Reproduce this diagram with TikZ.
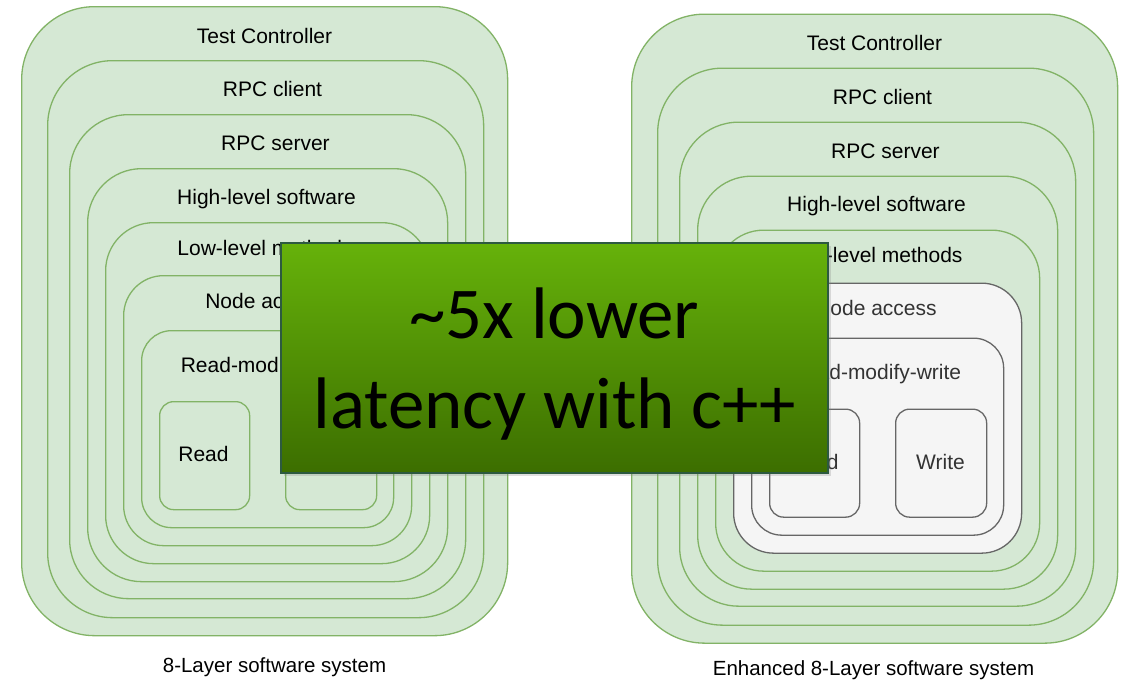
\documentclass[tikz,border=0pt]{standalone}
\usepackage{fontspec}
\setmainfont{Liberation Sans}
\newfontfamily\calloutfont{Carlito}
\usetikzlibrary{shadows}

\definecolor{layerfill}{HTML}{D5E8D4}
\definecolor{layerline}{HTML}{82B366}
\definecolor{greyfill}{HTML}{F5F5F5}
\definecolor{greyline}{HTML}{666666}
\definecolor{greytext}{HTML}{333333}
\definecolor{callouttop}{HTML}{66B20A}
\definecolor{calloutbottom}{HTML}{3C6E00}
\definecolor{calloutline}{HTML}{2D5A40}

\tikzset{
  layer/.style={draw=layerline, fill=layerfill, line width=1.3pt, inner sep=0pt, anchor=north west},
  greylayer/.style={draw=greyline, fill=greyfill, line width=1.3pt, inner sep=0pt, anchor=north west},
  lbl/.style={anchor=base, inner sep=0pt, font=\fontsize{21}{25}\selectfont},
  caption/.style={anchor=base, inner sep=0pt, font=\fontsize{20.5}{25}\selectfont},
  callout/.style={draw=calloutline, line width=2pt, top color=callouttop, bottom color=calloutbottom,
    inner sep=0pt, drop shadow={shadow xshift=3pt, shadow yshift=-3pt, opacity=0.25}},
  callouttext/.style={anchor=base, inner sep=0pt, font=\calloutfont\fontsize{73}{88}\selectfont},
}

% one nested stack of software layers; #1 name prefix, #2/#3 offset,
% #4 style of the three innermost levels, #5 their text colour
\newcommand{\softwarestack}[5]{%
  \begin{scope}[shift={(#2,#3)}]
    \node[layer, minimum width=486pt, minimum height=629pt, rounded corners=73pt] (#1tc)  at (21,6) {};
    \node[layer, minimum width=436pt, minimum height=557pt, rounded corners=65pt] (#1cli) at (47,60) {};
    \node[layer, minimum width=396pt, minimum height=484pt, rounded corners=59pt] (#1srv) at (69,114) {};
    \node[layer, minimum width=360pt, minimum height=413pt, rounded corners=54pt] (#1hl)  at (87,168) {};
    \node[layer, minimum width=324pt, minimum height=341pt, rounded corners=48pt] (#1ll)  at (105,222) {};
    \node[#4,    minimum width=288pt, minimum height=270pt, rounded corners=40pt] (#1na)  at (123,275) {};
    \node[#4,    minimum width=252pt, minimum height=197pt, rounded corners=30pt] (#1rmw) at (141,330) {};
    \node[#4,    minimum width=90pt,  minimum height=108pt, rounded corners=14pt] (#1rd)  at (159,401) {};
    \node[#4,    minimum width=91pt,  minimum height=108pt, rounded corners=14pt] (#1wr)  at (285,401) {};
    \node[lbl] (#1tct)  at (264.5,43)   {Test Controller};
    \node[lbl] (#1clit) at (272.5,96.7) {RPC client};
    \node[lbl] (#1srvt) at (275.5,150.7){RPC server};
    \node[lbl] (#1hlt)  at (266.5,204)  {High-level software};
    \node[lbl] (#1llt)  at (265,255)    {Low-level methods};
    \node[lbl, text=#5] (#1nat)  at (266,308)  {Node access};
    \node[lbl, text=#5] (#1rmwt) at (266,372)  {Read-modify-write};
    \node[lbl, text=#5] (#1rdt)  at (203.5,461.7) {Read};
    \node[lbl, text=#5] (#1wrt)  at (330.5,461.7) {Write};
  \end{scope}%
}

\begin{document}
\begin{tikzpicture}[x=1pt, y=-1pt]
  \useasboundingbox[fill=white] (0,0) rectangle (1128,681);

  % original stack and the enhanced one
  \softwarestack{a}{0}{0}{layer}{black}
  \softwarestack{b}{610}{7.5}{greylayer}{greytext}

  % captions
  \node[caption] (acap) at (274.5,672) {8-Layer software system};
  \node[caption] (bcap) at (873.5,675) {Enhanced 8-Layer software system};

  % highlighted result
  \node[callout, minimum width=547pt, minimum height=230pt] (gain) at (554.5,358) {};
  \node[callouttext] (gaina) at (554.5,338) {\textasciitilde 5x lower};
  \node[callouttext] (gainb) at (554.5,428) {latency with c++};
\end{tikzpicture}
\end{document}
